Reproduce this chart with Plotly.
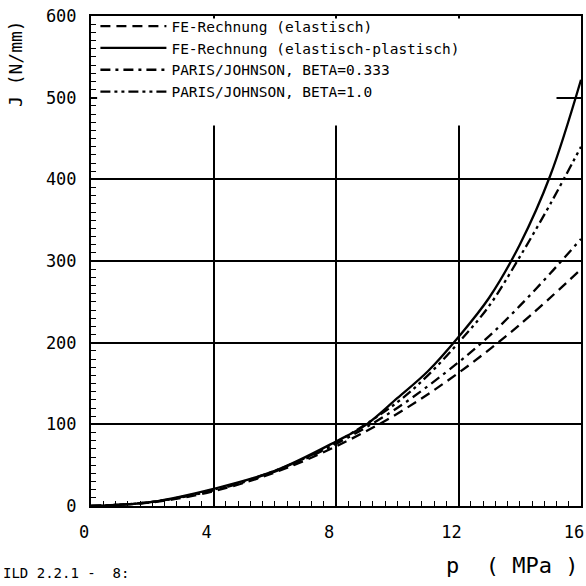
import plotly.graph_objects as go

# Data
p_el = [0, 2, 4, 6, 8, 10, 12, 14, 16]
j_el = [0, 4.5, 18, 41, 73, 113, 163, 222, 290]

p_pl = [0, 2, 4, 6, 8, 9, 10, 11, 12, 13, 14, 15, 16]
j_pl = [0, 5, 21, 43, 79, 100, 132, 165, 207, 255, 320, 405, 522]

p_b333 = [0, 2, 4, 6, 8, 10, 12, 13, 14, 15, 16]
j_b333 = [0, 5, 19, 42, 76, 120, 176, 208, 245, 285, 327]

p_b1 = [0, 2, 4, 6, 8, 10, 11, 12, 13, 14, 15, 16]
j_b1 = [0, 5, 20, 43, 78, 127, 160, 200, 245, 305, 370, 440]

names = ["FE-Rechnung (elastisch)",
         "FE-Rechnung (elastisch-plastisch)",
         "PARIS/JOHNSON, BETA=0.333",
         "PARIS/JOHNSON, BETA=1.0"]

x_tickvals = [0, 4, 8, 12, 16]
x_ticktext = ["0", "4", "8", "12", "16"]
y_tickvals = [0, 100, 200, 300, 400, 500, 600]

FONT = "DejaVu Sans Mono"

fig = go.Figure()
fig.add_trace(go.Scatter(x=p_el, y=j_el, mode="lines", name=names[0],
                         line=dict(color="black", width=2.3, dash="10px,6px", shape="spline")))
fig.add_trace(go.Scatter(x=p_pl, y=j_pl, mode="lines", name=names[1],
                         line=dict(color="black", width=2.3, shape="spline")))
fig.add_trace(go.Scatter(x=p_b333, y=j_b333, mode="lines", name=names[2],
                         line=dict(color="black", width=2.3, dash="10px,5px,3px,5px", shape="spline")))
fig.add_trace(go.Scatter(x=p_b1, y=j_b1, mode="lines", name=names[3],
                         line=dict(color="black", width=2.3, dash="10px,4px,3px,4px,3px,4px", shape="spline")))

fig.update_layout(
    width=586, height=586,
    margin=dict(l=91, r=2, t=16, b=80),
    paper_bgcolor="white", plot_bgcolor="white",
    font=dict(family=FONT, size=16, color="black"),
    showlegend=True,
    legend=dict(x=0.009, y=1.012, xanchor="left", yanchor="top",
                bgcolor="rgba(0,0,0,0)", borderwidth=0, itemwidth=66,
                font=dict(family=FONT, size=14.5, color="black"),
                tracegroupgap=0),
    xaxis=dict(range=[0, 16], tickvals=x_tickvals, ticktext=x_ticktext,
               showline=True, linecolor="black", linewidth=2, mirror=True,
               showgrid=True, gridcolor="black", gridwidth=1.5,
               ticks="inside", ticklen=6, tickcolor="black",
               minor=dict(dtick=0.4, ticks="inside", ticklen=5, tickcolor="black", showgrid=False),
               zeroline=False, tickfont=dict(family=FONT, size=17),
               ticklabelstandoff=10, ticklabelshift=-7, ticklabeloverflow="allow"),
    yaxis=dict(range=[0, 600], tickvals=y_tickvals,
               showline=True, linecolor="black", linewidth=2, mirror=True,
               showgrid=True, gridcolor="black", gridwidth=1.5,
               ticks="inside", ticklen=6, tickcolor="black",
               minor=dict(dtick=10, ticks="inside", ticklen=5, tickcolor="black", showgrid=False),
               zeroline=False, tickfont=dict(family=FONT, size=17), ticklabelstandoff=9),
)

# white area behind the legend that hides the grid there (no curve passes through it)
fig.add_shape(type="rect", xref="x", yref="y", x0=0.2, x1=15.2, y0=466, y1=597,
              fillcolor="white", line=dict(width=0), layer="above")

fig.add_annotation(text="J (N/mm)", xref="paper", yref="paper", x=-0.154, y=0.996,
                   xanchor="center", yanchor="top", textangle=-90, showarrow=False,
                   font=dict(family=FONT, size=18, color="black"))
fig.add_annotation(text="p  ( MPa )", xref="paper", yref="paper", x=0.998, y=-0.122,
                   xanchor="right", yanchor="middle", showarrow=False,
                   font=dict(family=FONT, size=22, color="black"))
fig.add_annotation(text="ILD 2.2.1 -  8:", xref="paper", yref="paper", x=-0.1846, y=-0.137,
                   xanchor="left", yanchor="middle", showarrow=False,
                   font=dict(family=FONT, size=14, color="black"))

fig.write_html("out.html", config={"displayModeBar": False},
               post_script="document.body.style.margin='0';document.body.style.overflow='hidden';")
